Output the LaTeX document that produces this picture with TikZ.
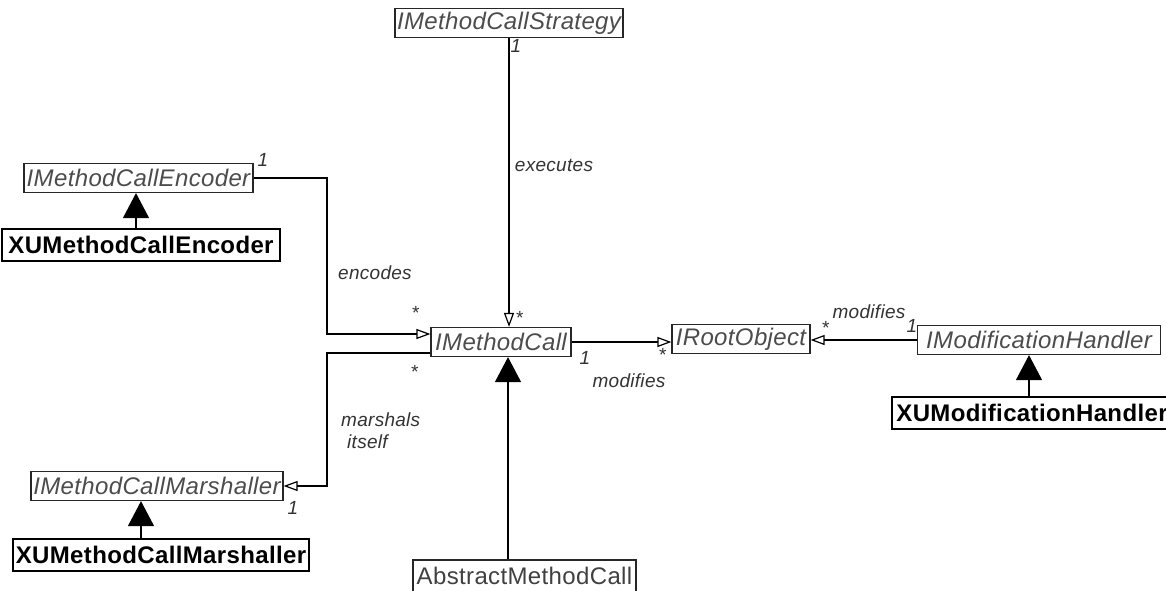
\documentclass[tikz,border=0pt]{standalone}
\usepackage{fontspec}
\setmainfont{Liberation Sans}
\newfontfamily\umlfont[LetterSpace=1.5]{Liberation Sans}
\usetikzlibrary{arrows.meta}
\begin{document}
\begin{tikzpicture}[x=1pt,y=-1pt,
  iface/.style={draw=black!85, line width=1.2pt, inner sep=0pt, minimum height=29pt,
    font=\umlfont\fontsize{24}{26}\selectfont\itshape, text=black!70},
  absclass/.style={draw=black!85, line width=1.2pt, inner sep=0pt, minimum height=32pt,
    font=\umlfont\fontsize{24}{26}\selectfont, text=black!75},
  impl/.style={draw=black, line width=1.4pt, inner sep=0pt, minimum height=32pt,
    font=\umlfont\fontsize{24}{26}\selectfont\bfseries, text=black},
  lbl/.style={font=\umlfont\fontsize{19}{22}\selectfont\itshape, text=black!80, inner sep=1pt},
  assoc/.style={line width=1.2pt, -{Triangle[open,length=14pt,width=10pt]}},
  inh/.style={line width=1.2pt, -{Triangle[length=25pt,width=26pt]}}
]
\useasboundingbox (0,0) rectangle (1166,590);

% classes and interfaces
\node[iface, minimum width=228pt] (strat) at (509,23) {IMethodCallStrategy};
\node[iface, minimum width=229pt] (enc) at (138.5,178) {IMethodCallEncoder};
\node[impl, minimum width=278pt] (xenc) at (141,245) {XUMethodCallEncoder};
\node[iface, minimum width=140pt] (mc) at (501,342) {IMethodCall};
\node[iface, minimum width=138pt] (root) at (741,339) {IRootObject};
\node[iface, minimum width=243pt] (mh) at (1039,340) {IModificationHandler};
\node[impl, minimum width=280pt] (xmh) at (1032,413) {XUModificationHandler};
\node[iface, minimum width=252pt] (mar) at (157,486) {IMethodCallMarshaller};
\node[impl, minimum width=296pt] (xmar) at (161,555) {XUMethodCallMarshaller};
\node[absclass, minimum width=223pt] (amc) at (524.5,576) {AbstractMethodCall};

% associations
\draw[assoc] (strat.south) -- (strat.south |- mc.north);
\draw[assoc] (enc.east) -| (327,334) -- ([yshift=8pt]mc.west);
\draw[assoc] ([yshift=-11pt]mc.west) -| (327,486) -- (mar.east);
\draw[assoc] (mc.east) -- (mc.east -| root.west);
\draw[assoc] (mh.west) -- (mh.west -| root.east);

% generalisations
\draw[inh] (xenc.north -| 136,0) -- (enc.south -| 136,0);
\draw[inh] (xmar.north -| 141,0) -- (mar.south -| 141,0);
\draw[inh] (amc.north -| 508,0) -- (mc.south -| 508,0);
\draw[inh] (xmh.north -| 1029,0) -- (mh.south -| 1029,0);

% role labels and multiplicities
\node[lbl] (m1) at (516,46) {1};
\node[lbl] (l1) at (554,165) {executes};
\node[lbl] (m2) at (519,318) {*};
\node[lbl] (m3) at (263,160) {1};
\node[lbl] (l2) at (375,273) {encodes};
\node[lbl] (m4) at (415,313) {*};
\node[lbl] (m5) at (414,372) {*};
\node[lbl, align=left, anchor=west] (l3) at (340,431) {marshals\\\hspace{6pt}itself};
\node[lbl] (m6) at (293,508) {1};
\node[lbl] (m7) at (585,358) {1};
\node[lbl] (m8) at (662,355) {*};
\node[lbl] (l4) at (629,381) {modifies};
\node[lbl] (l5) at (869,312) {modifies};
\node[lbl] (m9) at (825,328) {*};
\node[lbl] (m10) at (912,326) {1};
\end{tikzpicture}
\end{document}
